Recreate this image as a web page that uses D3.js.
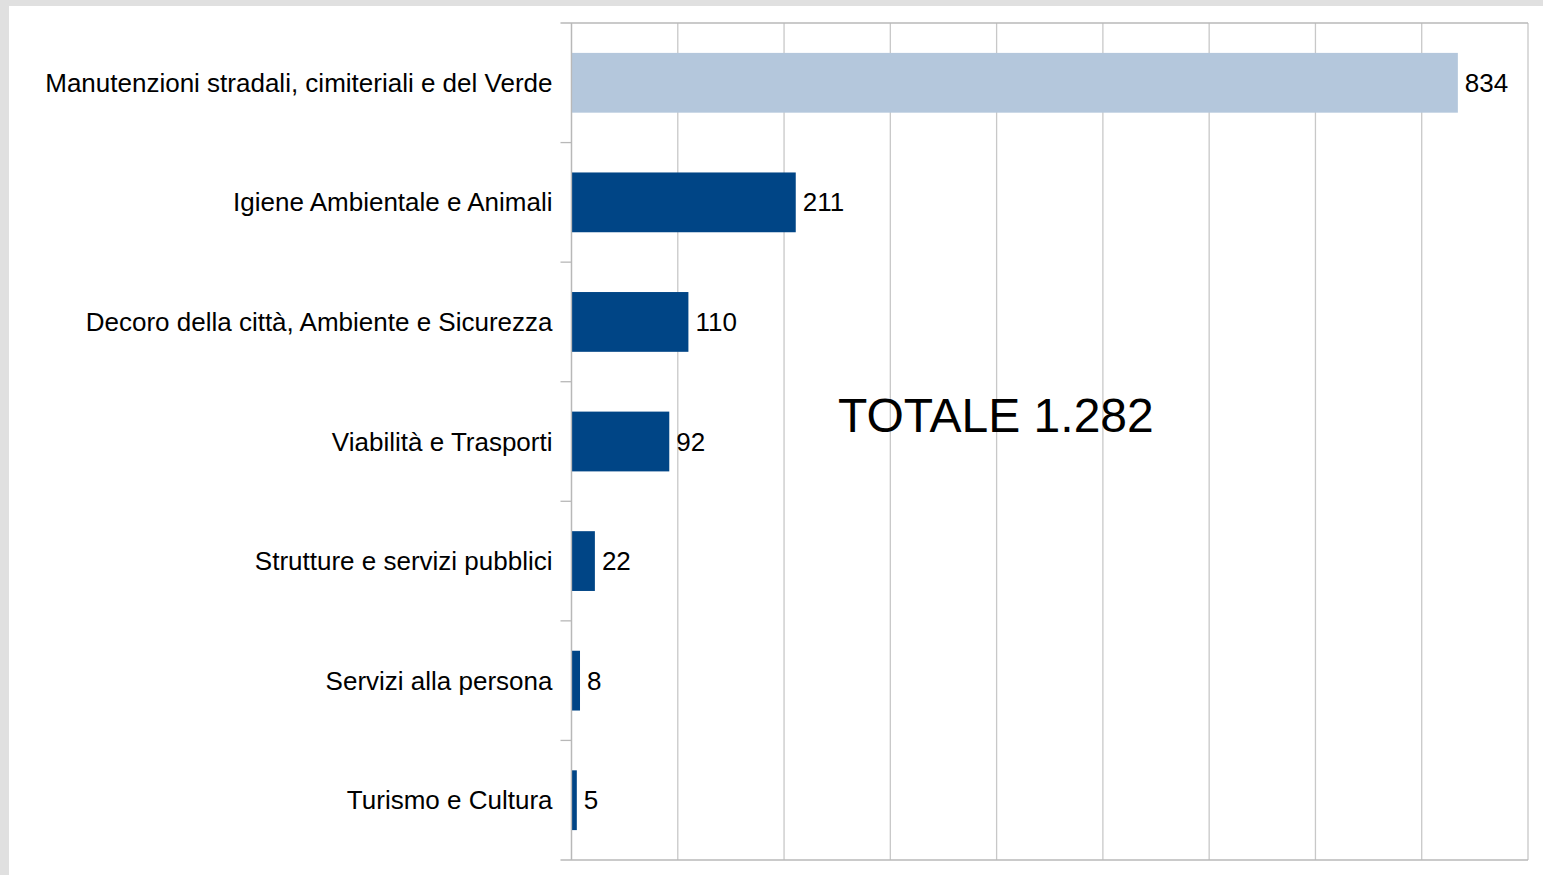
<!DOCTYPE html>
<html>
<head>
<meta charset="utf-8">
<script src="https://cdn.jsdelivr.net/npm/d3@7"></script>
<style>
  html, body { margin: 0; padding: 0; background: #e0e0e0; }
  #chart { width: 1543px; height: 875px; }
</style>
</head>
<body>
<div id="chart"></div>
<script>
const categories = [
  "Manutenzioni stradali, cimiteriali e del Verde",
  "Igiene Ambientale e Animali",
  "Decoro della città, Ambiente e Sicurezza",
  "Viabilità e Trasporti",
  "Strutture e servizi pubblici",
  "Servizi alla persona",
  "Turismo e Cultura"
];
const values = [834, 211, 110, 92, 22, 8, 5];
const xTicks = [0, 100, 200, 300, 400, 500, 600, 700, 800, 900];
const totalLabel = "TOTALE 1.282";

function drawChart() {
    const width = 1543, height = 875;
    const margin = {top: 23, right: 15, bottom: 15, left: 571.5};
    const font = "Liberation Sans, Arial, sans-serif";

    const svg = d3.select("#chart").append("svg")
        .attr("width", width)
        .attr("height", height);

    // fond blanc de la page
    svg.append("rect")
        .attr("x", 9).attr("y", 6)
        .attr("width", width - 9).attr("height", height - 6)
        .attr("fill", "#fff");

    const x = d3.scaleLinear()
        .domain([0, 900])
        .range([margin.left, width - margin.right]);

    const y = d3.scaleBand()
        .domain(categories)
        .range([margin.top, height - margin.bottom])
        .paddingInner(0.5)
        .paddingOuter(0.25);

    // grille verticale
    svg.append("g").selectAll("line")
       .data(xTicks).join("line")
       .attr("x1", d => x(d)).attr("x2", d => x(d))
       .attr("y1", y.range()[0]).attr("y2", y.range()[1])
       .attr("stroke", "#c8c8c8").attr("stroke-width", 1.3);

    // bord haut et bas
    svg.append("g").selectAll("line")
       .data(y.range()).join("line")
       .attr("x1", x(0) - 11).attr("x2", x(900))
       .attr("y1", d => d).attr("y2", d => d)
       .attr("stroke", "#b8b8b8").attr("stroke-width", 1.3);

    // petites graduations entre catégories
    const bounds = categories.slice(1).map(c => y(c) - y.step() * y.paddingInner() / 2);
    svg.append("g").selectAll("line")
       .data(bounds).join("line")
       .attr("x1", x(0) - 11).attr("x2", x(0))
       .attr("y1", d => d).attr("y2", d => d)
       .attr("stroke", "#b8b8b8").attr("stroke-width", 1.3);

    svg.append("g").selectAll("rect")
       .data(values).join("rect")
       .attr("x", x(0))
       .attr("y", (d, i) => y(categories[i]))
       .attr("width", d => x(d) - x(0))
       .attr("height", y.bandwidth())
       .attr("fill", (d, i) => i === 0 ? "#b4c7dc" : "#004586");

    svg.append("g").selectAll("text")
       .data(values).join("text")
       .attr("x", d => x(d) + 7)
       .attr("y", (d, i) => y(categories[i]) + y.bandwidth() / 2)
       .attr("dy", "0.35em")
       .text(d => d)
       .style("font-family", font)
       .style("font-size", "26px").style("fill", "#000");

    svg.append("g").selectAll("text")
       .data(categories).join("text")
       .attr("x", x(0) - 19)
       .attr("y", d => y(d) + y.bandwidth() / 2)
       .attr("dy", "0.35em")
       .attr("text-anchor", "end")
       .text(d => d)
       .style("font-family", font)
       .style("font-size", "26px").style("fill", "#000");

    svg.append("line")
       .attr("x1", x(0)).attr("x2", x(0))
       .attr("y1", y.range()[0]).attr("y2", y.range()[1])
       .attr("stroke", "#b8b8b8").attr("stroke-width", 1.3);

    svg.append("text")
       .attr("x", 838).attr("y", 432)
       .text(totalLabel)
       .style("font-family", font)
       .style("font-size", "48px").style("fill", "#000");
}

drawChart();
</script>
</body>
</html>
